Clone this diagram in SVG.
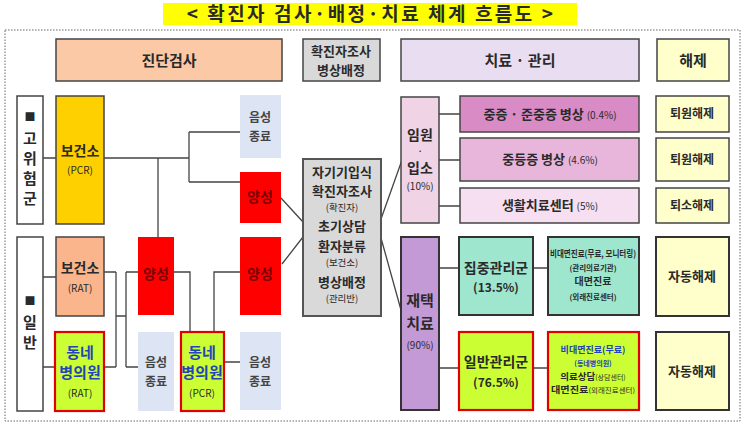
<svg xmlns="http://www.w3.org/2000/svg" width="745" height="427" viewBox="0 0 745 427">
<style>
text{font-family:"Noto Sans CJK KR","Noto Sans",sans-serif;font-weight:bold;text-anchor:middle;fill:#2a2a2a}
.b{stroke:#444;stroke-width:1.5}
.rb{stroke:#E00000;stroke-width:2.2}
.ln{stroke:#444;stroke-width:1.3;fill:none}
.neg{fill:#DDE4F3}
.pos{fill:#FF0000}
.pt{fill:#7A0000;font-size:14px}
.nt{fill:#444;font-size:12px}
.s{font-size:10px;font-weight:normal}
.cs{font-size:9.5px;font-weight:normal}
.blue{fill:#2244BB}
</style>
<rect x="163" y="3" width="414" height="22" fill="#FFFF00"/>
<text x="371" y="20.5" font-size="19" fill="#111" letter-spacing="2.5">&lt; 확진자 검사·배정·치료 체계 흐름도 &gt;</text>
<rect x="5" y="30" width="735" height="391" fill="none" stroke="#666" stroke-width="1" stroke-dasharray="1.5,1.5"/>

<g id="headers">
<rect x="56" y="39" width="226" height="42" fill="#FCC9A6" class="b"/>
<text x="169" y="66" font-size="15">진단검사</text>
<rect x="303" y="39" width="77" height="42" fill="#D9D9D9" class="b"/>
<text x="341" y="56" font-size="13">확진자조사</text>
<text x="341" y="75" font-size="13">병상배정</text>
<rect x="401" y="39" width="238" height="42" fill="#E9DEF1" class="b"/>
<text x="520" y="66" font-size="15">치료 · 관리</text>
<rect x="657" y="39" width="72" height="42" fill="#FFFFCC" class="b"/>
<text x="693" y="66" font-size="15">해제</text>
</g>

<g id="connectors">
<path class="ln" d="M43,158H56 M104,158H189 M158,158V237 M189,132V182 M189,132H240 M189,182H240"/>
<path class="ln" d="M43,277H56 M43,367H55 M104,272H116 M104,367H116 M116,272V367 M116,316H126 M126,272V367 M126,272H138 M126,367H138"/>
<path class="ln" d="M174,272H190V332 M214,332V272H240 M224,362H240"/>
<path class="ln" d="M281,198L303,222 M282,264L303,237"/>
<path class="ln" d="M381,219L402,160 M381,238L401,310"/>
<path class="ln" d="M439,114H460 M439,160H460 M439,206H460"/>
<path class="ln" d="M439,268H459 M439,368H459 M533,268H548 M533,368H548"/>
</g>

<g id="high-risk">
<rect x="17" y="96" width="26" height="128" fill="#fff" class="b"/>
<text x="30" y="121" font-size="11">■</text>
<text x="30" y="144" font-size="15">고</text>
<text x="30" y="164" font-size="15">위</text>
<text x="30" y="184" font-size="15">험</text>
<text x="30" y="204" font-size="15">군</text>
</g>
<g id="general">
<rect x="17" y="237" width="26" height="174" fill="#fff" class="b"/>
<text x="30" y="305" font-size="11">■</text>
<text x="30" y="328" font-size="15">일</text>
<text x="30" y="348" font-size="15">반</text>
</g>

<g id="bogunso-pcr">
<rect x="56" y="96" width="48" height="128" fill="#FFD000" class="b"/>
<text x="80" y="156" font-size="14">보건소</text>
<text x="80" y="174" class="s">(PCR)</text>
</g>
<g id="bogunso-rat">
<rect x="56" y="237" width="48" height="79" fill="#FBB58D" class="b"/>
<text x="80" y="273" font-size="14">보건소</text>
<text x="80" y="292" class="s">(RAT)</text>
</g>
<g id="clinic-rat">
<rect x="55" y="332" width="49" height="79" fill="#CCFF33" class="rb"/>
<text x="80" y="358" font-size="15" class="blue">동네</text>
<text x="80" y="378" font-size="15" class="blue">병의원</text>
<text x="80" y="397" class="s">(RAT)</text>
</g>

<g id="pos-1">
<rect x="138" y="237" width="36" height="78" class="pos"/>
<text x="156" y="279" class="pt">양성</text>
</g>
<g id="neg-1">
<rect x="138" y="332" width="36" height="79" class="neg"/>
<text x="156" y="367" class="nt">음성</text>
<text x="156" y="386" class="nt">종료</text>
</g>
<g id="clinic-pcr">
<rect x="181" y="332" width="43" height="79" fill="#CCFF33" class="rb"/>
<text x="202" y="358" font-size="15" class="blue">동네</text>
<text x="202" y="378" font-size="15" class="blue">병의원</text>
<text x="202" y="397" class="s">(PCR)</text>
</g>

<g id="neg-top">
<rect x="240" y="95" width="41" height="63" class="neg"/>
<text x="260" y="122" class="nt">음성</text>
<text x="260" y="141" class="nt">종료</text>
</g>
<g id="pos-top">
<rect x="240" y="172" width="41" height="51" class="pos"/>
<text x="260" y="202" class="pt">양성</text>
</g>
<g id="pos-bottom">
<rect x="240" y="237" width="41" height="78" class="pos"/>
<text x="260" y="279" class="pt">양성</text>
</g>
<g id="neg-bottom">
<rect x="240" y="332" width="41" height="78" class="neg"/>
<text x="260" y="367" class="nt">음성</text>
<text x="260" y="386" class="nt">종료</text>
</g>

<g id="center">
<rect x="303" y="159" width="78" height="157" fill="#D9D9D9" stroke="#555" stroke-width="2"/>
<text x="342" y="176.5" font-size="13">자기기입식</text>
<text x="342" y="196" font-size="13">확진자조사</text>
<text x="342" y="211" class="cs">(확진자)</text>
<text x="342" y="231" font-size="13">초기상담</text>
<text x="342" y="250.5" font-size="13">환자분류</text>
<text x="342" y="265.5" class="cs">(보건소)</text>
<text x="342" y="287" font-size="13">병상배정</text>
<text x="342" y="302" class="cs">(관리반)</text>
</g>

<g id="hospital">
<rect x="401" y="97" width="38" height="126" fill="#F0D4E6" class="b"/>
<text x="420" y="140" font-size="14">임원</text>
<text x="420" y="153.5" font-size="8">·</text>
<text x="420" y="172.5" font-size="14">입소</text>
<text x="420" y="189.5" class="s">(10%)</text>
</g>
<g id="severe">
<rect x="460" y="96" width="179" height="36" fill="#D98BC6" class="b"/>
<text x="550" y="119" font-size="13">중증 · 준중증 병상 <tspan class="s">(0.4%)</tspan></text>
</g>
<g id="moderate">
<rect x="460" y="138" width="179" height="43" fill="#E8B6DA" class="b"/>
<text x="550" y="164" font-size="13">중등증 병상 <tspan class="s">(4.6%)</tspan></text>
</g>
<g id="center-life">
<rect x="460" y="188" width="179" height="35" fill="#F6DFF0" class="b"/>
<text x="550" y="210" font-size="13">생활치료센터 <tspan class="s">(5%)</tspan></text>
</g>
<g id="release-1">
<rect x="656" y="96" width="73" height="36" fill="#FFFFCC" class="b"/>
<text x="692" y="118" font-size="12">퇴원해제</text>
</g>
<g id="release-2">
<rect x="656" y="138" width="73" height="43" fill="#FFFFCC" class="b"/>
<text x="692" y="164" font-size="12">퇴원해제</text>
</g>
<g id="release-3">
<rect x="656" y="188" width="73" height="35" fill="#FFFFCC" class="b"/>
<text x="692" y="210" font-size="12">퇴소해제</text>
</g>

<g id="home">
<rect x="401" y="237" width="38" height="173" fill="#C399D6" stroke="#333" stroke-width="2"/>
<text x="420" y="306" font-size="15">재택</text>
<text x="420" y="329" font-size="15">치료</text>
<text x="420" y="349" class="s">(90%)</text>
</g>
<g id="intensive">
<rect x="459" y="237" width="74" height="78" fill="#9FE6CF" stroke="#333" stroke-width="2"/>
<text x="496" y="273" font-size="14">집중관리군</text>
<text x="496" y="292" font-size="12" font-weight="normal">(13.5%)</text>
</g>
<g id="intensive-care">
<rect x="548" y="237" width="91" height="78" fill="#9FE6CF" stroke="#333" stroke-width="2"/>
<text x="593" y="257" font-size="9" textLength="86" lengthAdjust="spacingAndGlyphs">비대면진료(무료, 모니터링)</text>
<text x="593" y="271" font-size="7.5" font-weight="normal">(관리의료기관)</text>
<text x="593" y="285" font-size="10">대면진료</text>
<text x="593" y="300" font-size="7.5" font-weight="normal">(외래진료센터)</text>
</g>
<g id="general-group">
<rect x="459" y="332" width="74" height="78" fill="#CCFF33" class="rb"/>
<text x="496" y="367" font-size="14">일반관리군</text>
<text x="496" y="387" font-size="12" font-weight="normal">(76.5%)</text>
</g>
<g id="general-care">
<rect x="548" y="332" width="91" height="78" fill="#CCFF33" class="rb"/>
<text x="593" y="353" font-size="9" class="blue">비대면진료(무료)</text>
<text x="593" y="366" font-size="7" class="blue" font-weight="normal">(동네병의원)</text>
<text x="593" y="380" font-size="9.5">의료상담<tspan font-size="7" font-weight="normal">(상담센터)</tspan></text>
<text x="593" y="393" font-size="9.5" textLength="84" lengthAdjust="spacingAndGlyphs">대면진료<tspan font-size="7" font-weight="normal">(외래진료센터)</tspan></text>
</g>
<g id="auto-1">
<rect x="656" y="237" width="73" height="79" fill="#FFFFCC" stroke="#333" stroke-width="2"/>
<text x="692" y="281" font-size="13">자동해제</text>
</g>
<g id="auto-2">
<rect x="656" y="332" width="73" height="78" fill="#FFFFCC" stroke="#333" stroke-width="2"/>
<text x="692" y="376" font-size="13">자동해제</text>
</g>
</svg>
